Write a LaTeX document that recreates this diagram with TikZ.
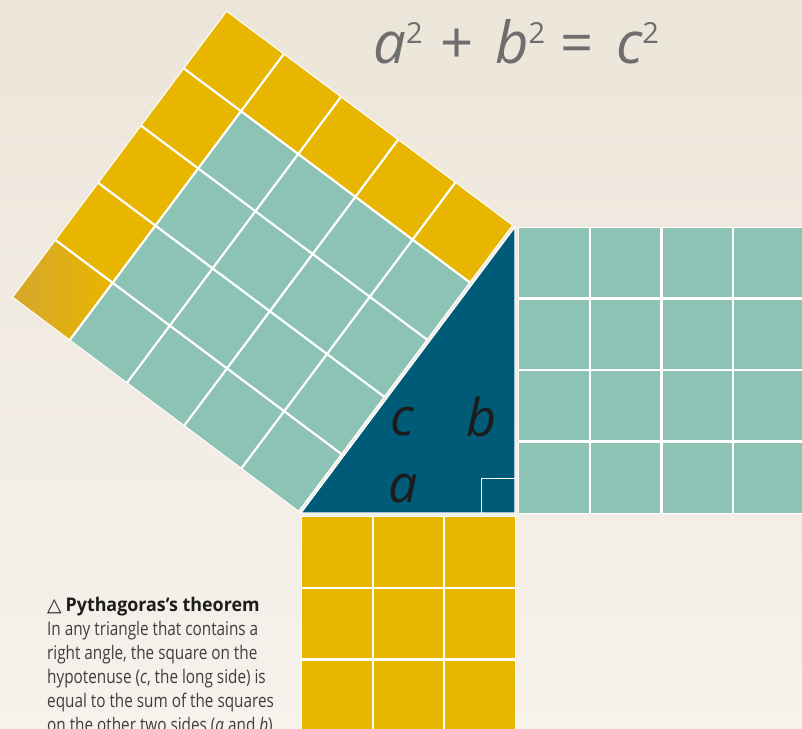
\documentclass[tikz,border=0pt]{standalone}
\usepackage{fontspec}
\setmainfont{Open Sans}
\newfontfamily\capfont[FakeStretch=0.814]{Open Sans}
\newfontfamily\capbold[FakeStretch=0.95]{Open Sans}
\newfontfamily\symfont{DejaVu Sans}
\definecolor{bgA}{RGB}{236,229,217}
\definecolor{bgB}{RGB}{246,242,236}
\definecolor{ylw}{RGB}{232,181,0}
\definecolor{ylwdk}{RGB}{214,167,44}
\definecolor{cellteal}{RGB}{141,195,180}
\definecolor{tri}{RGB}{0,91,120}
\definecolor{titlegray}{RGB}{110,110,110}
\definecolor{ink}{RGB}{28,28,28}
\definecolor{captext}{RGB}{62,62,62}
\newcommand{\sqtwo}{\raisebox{20pt}{\fontsize{29}{29}\selectfont\upshape 2}}
\tikzset{
  gridln/.style={white, line width=2.2pt},
  outerln/.style={white, line width=1pt},
  lbl/.style={font=\fontsize{52}{52}\selectfont\itshape, text=ink, inner sep=0pt, anchor=base},
  ttl/.style={font=\fontsize{58}{58}\selectfont\itshape, text=titlegray, inner sep=0pt},
  capline/.style={font=\capfont\fontsize{18.8}{22}\selectfont, text=captext, inner sep=0pt, anchor=base west},
}
\begin{document}
\begin{tikzpicture}[x=1pt,y=-1pt]
\useasboundingbox (0,0) rectangle (802,728);
\clip (0,0) rectangle (802,728);
\shade[top color=bgA, bottom color=bgB] (0,0) rectangle (802,728);

% triangle vertices
\coordinate (A) at (301,513);
\coordinate (R) at (515,513);
\coordinate (T) at (515,227);

% square on the hypotenuse
\begin{scope}[shift={(298.6,511.2)}, x={(42.8pt,57.2pt)}, y={(-57.2pt,42.8pt)}]
  \foreach \i in {0,...,3}{
    \foreach \j in {0,...,3}{
      \fill[cellteal] (\i,\j) -- (\i+1,\j) -- (\i+1,\j+1) -- (\i,\j+1) -- cycle;
    }
  }
  \foreach \i in {0,...,4}{
    \fill[ylw] (\i,4) -- (\i+1,4) -- (\i+1,5) -- (\i,5) -- cycle;
  }
  \foreach \j in {0,...,3}{
    \fill[ylw] (4,\j) -- (5,\j) -- (5,\j+1) -- (4,\j+1) -- cycle;
  }
  \shade[left color=ylwdk, right color=ylw] (0,4) -- (1,4) -- (1,5) -- (0,5) -- cycle;
  \foreach \k in {1,...,4}{
    \draw[gridln] (\k,0) -- (\k,5);
    \draw[gridln] (0,\k) -- (5,\k);
  }
  \draw[outerln] (0,0) -- (5,0) -- (5,5) -- (0,5) -- cycle;
\end{scope}

% square on b (right)
\begin{scope}[shift={(518.5,227)}, x=71.5pt, y=-71.5pt]
  \fill[cellteal] (0,0) -- (4,0) -- (4,4) -- (0,4) -- cycle;
  \foreach \k in {1,...,3}{
    \draw[gridln] (\k,0) -- (\k,4);
    \draw[gridln] (0,\k) -- (4,\k);
  }
  \draw[outerln] (0,0) -- (4,0) -- (4,4) -- (0,4) -- cycle;
\end{scope}

% square on a (bottom)
\begin{scope}[shift={(301.5,516.5)}, x=71.4pt, y=-71.5pt]
  \fill[ylw] (0,0) -- (3,0) -- (3,3) -- (0,3) -- cycle;
  \foreach \k in {1,2}{
    \draw[gridln] (\k,0) -- (\k,3);
    \draw[gridln] (0,\k) -- (3,\k);
  }
  \draw[outerln] (0,0) -- (3,0) -- (3,3) -- (0,3) -- cycle;
\end{scope}

% triangle
\fill[tri] (A) -- (R) -- (T) -- cycle;
\draw[white, line width=1.2pt, line join=miter] (A) -- (R) -- (T) -- cycle;
\coordinate (M1) at (481,513);
\coordinate (M2) at (515,478);
\draw[white, line width=1pt] (M1) |- (M2);

% side labels
\node[lbl] (lc) at (402,435) {c};
\node[lbl] (lb) at (482,436) {b};
\node[lbl] (la) at (403,502) {a};

% formula
\node[ttl, anchor=base west] (ta) at (373,63) {a\sqtwo};
\node[ttl, anchor=base, font=\fontsize{58}{58}\selectfont] (tp) at (457,63) {+};
\node[ttl, anchor=base west] (tb) at (495,63) {b\sqtwo};
\node[ttl, anchor=base, font=\fontsize{58}{58}\selectfont] (te) at (577,63) {=};
\node[ttl, anchor=base west] (tc) at (616,63) {c\sqtwo};

% caption
\node[capline, text=ink] (c0) at (47,611) {{\symfont △} {\capbold\bfseries Pythagoras’s theorem}};
\node[capline] (c1) at (47,635) {In any triangle that contains a};
\node[capline] (c2) at (47,659.1) {right angle, the square on the};
\node[capline] (c3) at (47,683.2) {hypotenuse (\textit{c}, the long side) is};
\node[capline] (c4) at (47,707.3) {equal to the sum of the squares};
\node[capline] (c5) at (47,731.4) {on the other two sides (\textit{a} and \textit{b}).};
\end{tikzpicture}
\end{document}
